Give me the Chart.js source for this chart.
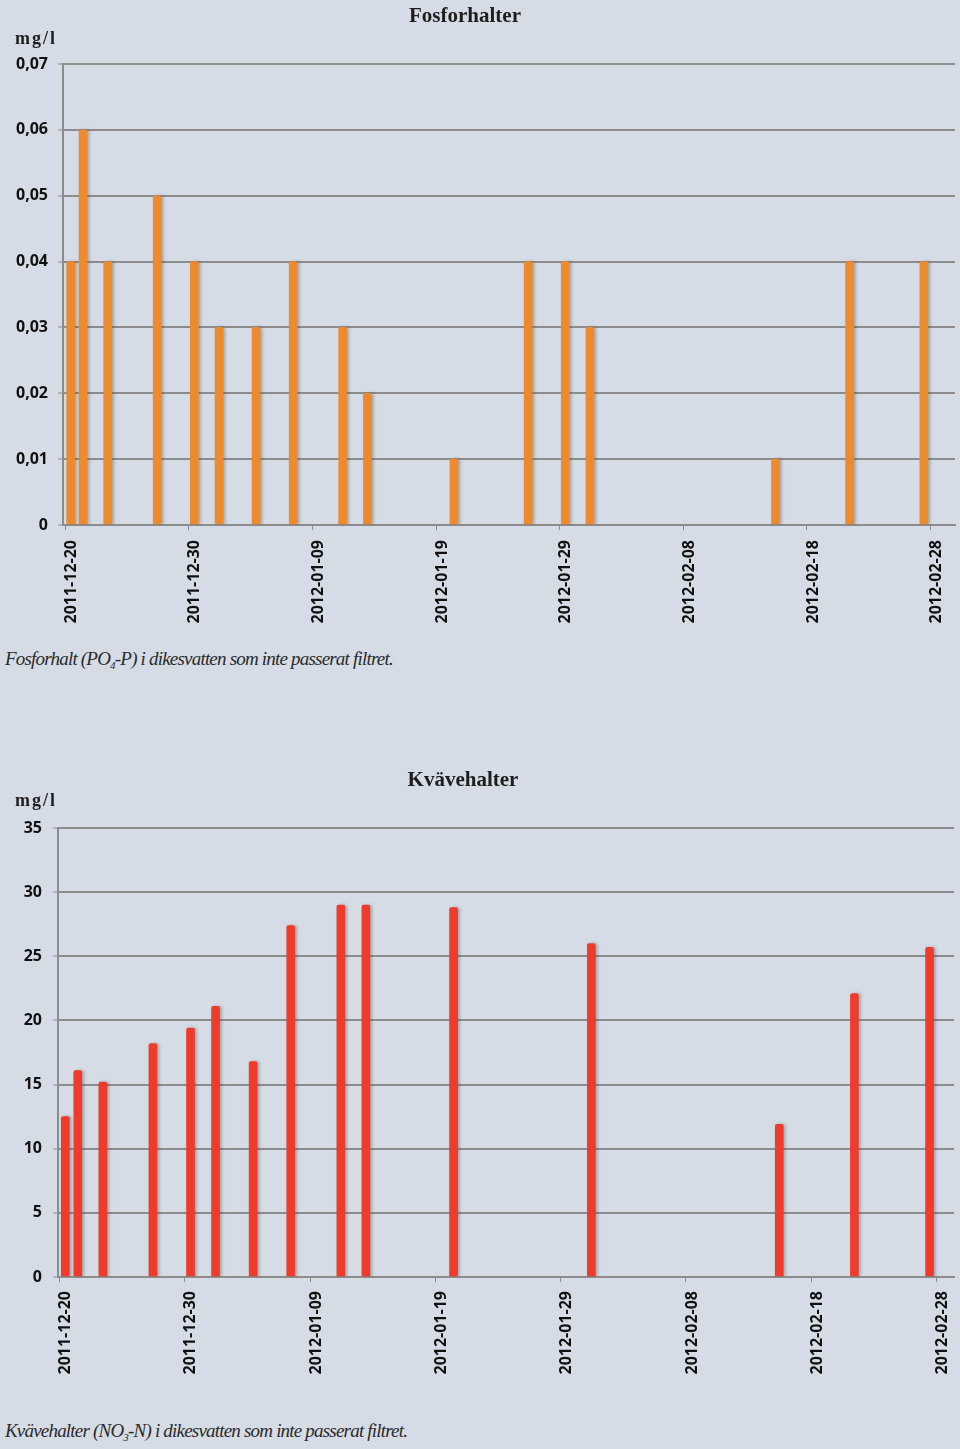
<!DOCTYPE html>
<html><head><meta charset="utf-8">
<script src="https://cdn.jsdelivr.net/npm/chart.js@4.4.1/dist/chart.umd.min.js"></script>
<style>
html,body{margin:0;padding:0;background:#d6dce5;}
body{width:960px;height:1449px;overflow:hidden;position:relative;}
.box{position:absolute;left:0;width:960px;}
.t{position:absolute;font-family:"Liberation Serif","Times New Roman",serif;color:#1e1e1e;white-space:nowrap;line-height:1;}
.title{font-weight:bold;font-size:21px;transform:translateX(-50%);}
.unit{font-weight:bold;font-size:18px;letter-spacing:2px;}
.cap{font-style:italic;font-size:19px;letter-spacing:-0.8px;color:#2a2a2a;}
.cap sub{font-size:11px;vertical-align:-4px;}
</style></head><body>
<div class="box" style="top:0;height:640px"><canvas id="c1"></canvas></div>
<div class="box" style="top:700px;height:700px"><canvas id="c2"></canvas></div>

<div class="t title" style="left:465px;top:5px">Fosforhalter</div>
<div class="t unit" style="left:15px;top:29px">mg/l</div>
<div class="t cap" style="left:5px;top:649px">Fosforhalt (PO<sub>4</sub>-P) i dikesvatten som inte passerat filtret.</div>

<div class="t title" style="left:463px;top:769px">Kvävehalter</div>
<div class="t unit" style="left:15px;top:791px">mg/l</div>
<div class="t cap" style="left:5px;top:1421px">Kvävehalter (NO<sub>3</sub>-N) i dikesvatten som inte passerat filtret.</div>

<script>
// ---- data ----
const phosDates = ["2011-12-20","2011-12-21","2011-12-23","2011-12-27","2011-12-30","2012-01-01","2012-01-04","2012-01-07","2012-01-11","2012-01-13","2012-01-20","2012-01-26","2012-01-29","2012-01-31","2012-02-15","2012-02-21","2012-02-27"];
const phosValues = [0.04,0.06,0.04,0.05,0.04,0.03,0.03,0.04,0.03,0.02,0.01,0.04,0.04,0.03,0.01,0.04,0.04];
const nitroDates = ["2011-12-20","2011-12-21","2011-12-23","2011-12-27","2011-12-30","2012-01-01","2012-01-04","2012-01-07","2012-01-11","2012-01-13","2012-01-20","2012-01-31","2012-02-15","2012-02-21","2012-02-27"];
const nitroValues = [12.5,16.1,15.2,18.2,19.4,21.1,16.8,27.4,29.0,29.0,28.8,26.0,11.9,22.1,25.7];
const dateTickLabels = ["2011-12-20","2011-12-30","2012-01-09","2012-01-19","2012-01-29","2012-02-08","2012-02-18","2012-02-28"];
const phosTickValues = [0,0.01,0.02,0.03,0.04,0.05,0.06,0.07];
const phosTickLabels = ["0","0,01","0,02","0,03","0,04","0,05","0,06","0,07"];
const nitroTickValues = [0,5,10,15,20,25,30,35];
const nitroTickLabels = ["0","5","10","15","20","25","30","35"];

// ---- helpers ----
const baseDate = Date.parse(dateTickLabels[0]);
const dayOf = d => (Date.parse(d) - baseDate) / 86400000;
const tickDays = dateTickLabels.map(dayOf);
const barShift = 0.45;
const gridCol = '#8c8c8c';
const tickFont = {family:'"Open Sans"', weight:'bold', size:16};

const shadowPlugin = {
  id:'barShadow',
  beforeDatasetsDraw(c){const x=c.ctx;x.save();x.shadowColor='rgba(70,70,70,0.35)';x.shadowBlur=3;x.shadowOffsetX=2;x.shadowOffsetY=0;},
  afterDatasetsDraw(c){c.ctx.restore();}
};

function makeChart(id, dates, values, color, yVals, yLabels, cfg){
  const pts = dates.map((d,i)=>({x: dayOf(d)+barShift, y: values[i]}));
  return new Chart(document.getElementById(id), {
    type:'bar',
    data:{datasets:[{data:pts, backgroundColor:color, borderWidth:0, barThickness:8,
      borderRadius:{topLeft:2,topRight:2,bottomLeft:0,bottomRight:0}, borderSkipped:'bottom'}]},
    options:{
      responsive:true, maintainAspectRatio:false, animation:false,
      layout:{padding:{top:cfg.top,right:cfg.right,left:0,bottom:0}},
      plugins:{legend:{display:false},tooltip:{enabled:false},title:{display:false}},
      scales:{
        x:{type:'linear', min:cfg.xmin, max:cfg.xmax, offset:false,
          afterBuildTicks:s=>{s.ticks = tickDays.map(v=>({value:v}));},
          afterFit:s=>{s.height=cfg.xh; s.paddingLeft=0; s.paddingRight=0;},
          grid:{display:true, drawOnChartArea:false, drawTicks:true, tickLength:5, tickColor:gridCol, tickWidth:1, offset:false},
          border:{display:true, color:gridCol, width:2},
          ticks:{autoSkip:false, minRotation:90, maxRotation:90, padding:cfg.xpad, labelOffset:cfg.lo,
            color:'#111', font:tickFont, callback:(v,i)=>dateTickLabels[i]}
        },
        y:{type:'linear', min:0, max:yVals[yVals.length-1],
          afterBuildTicks:s=>{s.ticks = yVals.map(v=>({value:v}));},
          afterFit:s=>{s.width=cfg.yw;},
          grid:{color:gridCol, lineWidth:2, drawTicks:true, tickLength:5, tickColor:gridCol, tickWidth:1},
          border:{display:true, color:gridCol, width:2},
          ticks:{padding:cfg.ypad, color:'#111', font:tickFont, callback:(v,i)=>yLabels[i]}
        }
      }
    },
    plugins:[shadowPlugin]
  });
}

makeChart('c1', phosDates, phosValues, '#ee8a2e', phosTickValues, phosTickLabels,
  {top:64, right:5, xh:115, yw:63, xmin:-0.17, xmax:71.97, xpad:10, lo:6, ypad:10});
makeChart('c2', nitroDates, nitroValues, '#ee3b2b', nitroTickValues, nitroTickLabels,
  {top:128, right:6, xh:123, yw:58, xmin:-0.13, xmax:71.4, xpad:9, lo:6, ypad:11});
</script>
</body></html>
